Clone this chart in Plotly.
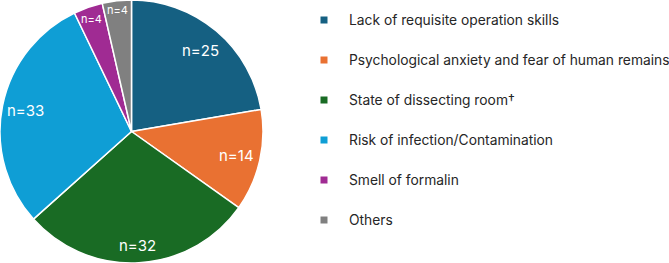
import math
import plotly.graph_objects as go

labels = ["Lack of requisite operation skills",
          "Psychological anxiety and fear of human remains",
          "State of dissecting room\u2020",
          "Risk of infection/Contamination",
          "Smell of formalin",
          "Others"]
values = [25, 14, 32, 33, 4, 4]
colors = ["#156082", "#E97132", "#196B24", "#0F9ED5", "#A02B93", "#808080"]

# label placement style (fraction of radius, font size)
label_r = [0.81, 0.82, 0.87, 0.82, 0.91, 0.93]
label_fs = [15, 15, 15, 15, 11, 11]

W, H = 669, 263
R = 131.5
cx, cy = 131.5, 131.5

fig = go.Figure()
fig.add_trace(go.Pie(
    labels=labels, values=values, sort=False, direction="clockwise", rotation=0,
    marker=dict(colors=colors, line=dict(color="white", width=1.5)),
    textinfo="none",
    domain=dict(x=[0, 263 / W], y=[0, 1]),
    showlegend=False, hoverinfo="label+value",
))

# data labels placed at each slice's mid-angle
total = sum(values)
cum = 0
for v, rf, fs in zip(values, label_r, label_fs):
    mid = (cum + v / 2) / total * 2 * math.pi
    cum += v
    px = cx + rf * R * math.sin(mid)
    py = cy - rf * R * math.cos(mid)
    fig.add_annotation(xref="paper", yref="paper", x=px / W, y=1 - py / H,
                       xanchor="center", yanchor="middle", text=f"n={v}",
                       showarrow=False,
                       font=dict(family="Inter", size=fs, color="white"))

# legend drawn from the label/colour lists
x_marker = 324
x_text = 347
y0, dy = 20, 40
for i, (lab, col) in enumerate(zip(labels, colors)):
    yc = y0 + i * dy
    fig.add_shape(type="rect", xref="paper", yref="paper",
                  x0=(x_marker - 3.5) / W, x1=(x_marker + 3.5) / W,
                  y0=1 - (yc + 3.5) / H, y1=1 - (yc - 3.5) / H,
                  fillcolor=col, line=dict(width=0))
    fig.add_annotation(xref="paper", yref="paper", x=x_text / W, y=1 - yc / H,
                       xanchor="left", yanchor="middle", text=lab, showarrow=False,
                       font=dict(family="Inter", size=13.8, color="#262626"))

fig.update_layout(width=W, height=H, margin=dict(l=0, r=0, t=0, b=0),
                  paper_bgcolor="white", plot_bgcolor="white")
fig.write_html("out.html", config={"displayModeBar": False},
               post_script="document.body.style.margin='0';")
